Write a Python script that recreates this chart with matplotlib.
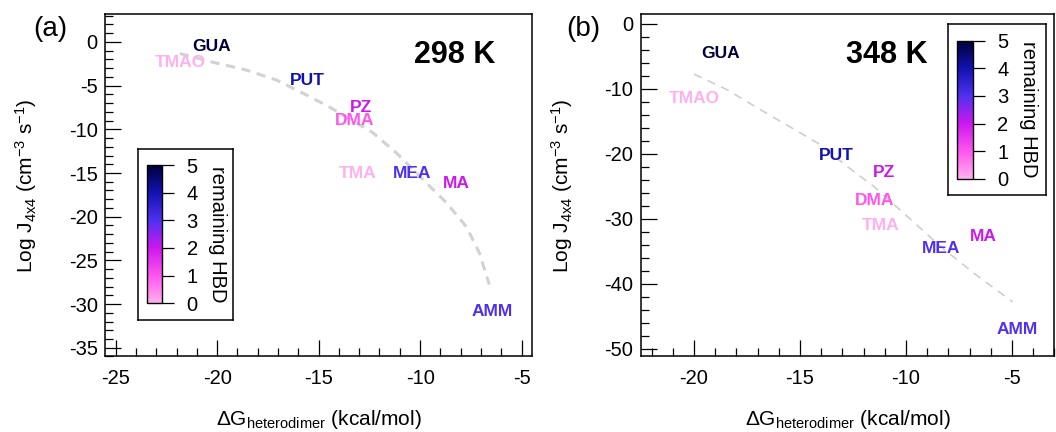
import numpy as np
import matplotlib
matplotlib.use('Agg')
import matplotlib.pyplot as plt
from matplotlib.colors import LinearSegmentedColormap, Normalize
from matplotlib.ticker import MultipleLocator
import matplotlib.cm as cm

plt.rcParams['font.family'] = ['Liberation Sans', 'DejaVu Sans']
plt.rcParams['mathtext.fontset'] = 'custom'
plt.rcParams['mathtext.rm'] = 'Liberation Sans'
plt.rcParams['mathtext.it'] = 'Liberation Sans:italic'
plt.rcParams['mathtext.bf'] = 'Liberation Sans:bold'
plt.rcParams['axes.unicode_minus'] = False

# molecules and remaining H-bond donors
names = ['GUA', 'TMAO', 'PUT', 'PZ', 'DMA', 'TMA', 'MEA', 'MA', 'AMM']
hbd = [5, 0, 4, 2, 1, 0, 3, 2, 3]

# 298 K
dg_298 = [-20.28, -21.8, -15.56, -12.90, -13.23, -13.07, -10.39, -8.20, -6.43]
logj_298 = [-0.49, -2.35, -4.45, -7.49, -9.02, -15.1, -15.0, -16.24, -30.9]
fit_298_x = [-21.84, -20.21, -18.54, -17.06, -15.59, -14.46, -12.34, -11.16, -9.69, -8.70, -7.72, -7.08, -6.59]
fit_298_y = [-1.32, -2.32, -3.23, -4.37, -6.08, -7.45, -10.37, -12.71, -16.13, -18.41, -21.15, -24.12, -27.77]

# 348 K
dg_348 = [-18.74, -20.0, -13.30, -11.06, -11.50, -11.18, -8.35, -6.36, -4.74]
logj_348 = [-4.62, -11.45, -20.3, -22.9, -27.2, -31.1, -34.6, -32.7, -47.1]
fit_348_x = [-20.0, -18.43, -16.85, -14.96, -14.02, -12.76, -11.50, -9.92, -8.35, -6.78, -4.97]
fit_348_y = [-7.75, -10.17, -13.26, -16.85, -18.65, -22.0, -25.08, -29.7, -34.33, -38.43, -42.8]

cmap = LinearSegmentedColormap.from_list('hbd', ['#ffb0f0', '#ff55ee', '#cc18ee', '#5030f0', '#1212b0', '#000038'])
norm = Normalize(0, 5)

fig = plt.figure(figsize=(10.56, 4.32), dpi=100)
ax_a = fig.add_axes([0.0999, 0.1748, 0.4036, 0.7928])
ax_b = fig.add_axes([0.607, 0.1748, 0.3915, 0.7928])


def style(ax, xmaj, ymaj, ymin):
    ax.xaxis.set_major_locator(MultipleLocator(xmaj))
    ax.xaxis.set_minor_locator(MultipleLocator(1))
    ax.yaxis.set_major_locator(MultipleLocator(ymaj))
    ax.yaxis.set_minor_locator(MultipleLocator(ymin))
    ax.tick_params(which='both', direction='in', top=False, right=False, width=0.9, labelsize=14.5)
    ax.tick_params(which='major', length=11.5)
    ax.tick_params(which='minor', length=5.5)
    ax.tick_params(axis='x', pad=9)
    ax.tick_params(axis='y', pad=5.5)
    for s in ax.spines.values():
        s.set_linewidth(1.1)
    ax.set_xlabel(r'$\Delta$G$_{\mathrm{heterodimer}}$ (kcal/mol)', fontsize=15)
    ax.set_ylabel(r'Log J$_{\mathrm{4x4}}$ (cm$^{\mathrm{-3}}$ s$^{\mathrm{-1}}$)', fontsize=15)
    ax.xaxis.set_label_coords(0.5, -0.15)


def add_cbar(box, cpos):
    bx = fig.add_axes(box)
    bx.set_xticks([])
    bx.set_yticks([])
    for s in bx.spines.values():
        s.set_linewidth(1.1)
    cax = fig.add_axes(cpos)
    cb = fig.colorbar(cm.ScalarMappable(norm=norm, cmap=cmap), cax=cax, ticks=range(6))
    cb.outline.set_linewidth(1.0)
    cax.tick_params(direction='out', length=8.5, width=0.9, labelsize=14.5, pad=9)
    cb.set_label('remaining HBD', rotation=270, fontsize=14.5, labelpad=21)


# panel (a)
style(ax_a, 5, 5, 1)
ax_a.set_xlim(-25.5, -4.5)
ax_a.set_ylim(-36, 3.2)
ax_a.plot(fit_298_x, fit_298_y, ls=(0, (3, 2.2)), color='#d2d2d2', lw=2.2, zorder=1)
for n, x, y, h in zip(names, dg_298, logj_298, hbd):
    ax_a.text(x, y, n, color=cmap(norm(h)), fontsize=12.5, fontweight='bold', ha='center', va='center', zorder=2)
ax_a.text(0.82, 0.88, '298 K', transform=ax_a.transAxes, fontsize=22, fontweight='bold', ha='center', va='center')
ax_a.yaxis.set_label_coords(-0.156, 0.5)

# panel (b)
style(ax_b, 5, 10, 2)
ax_b.set_xlim(-22.5, -3)
ax_b.set_ylim(-51.2, 1.5)
ax_b.plot(fit_348_x, fit_348_y, ls=(0, (5, 4)), color='#cfcfcf', lw=1.2, zorder=1)
for n, x, y, h in zip(names, dg_348, logj_348, hbd):
    ax_b.text(x, y, n, color=cmap(norm(h)), fontsize=12.5, fontweight='bold', ha='center', va='center', zorder=2)
ax_b.text(0.595, 0.88, '348 K', transform=ax_b.transAxes, fontsize=22, fontweight='bold', ha='center', va='center')
ax_b.yaxis.set_label_coords(-0.16, 0.5)

fig.text(0.048, 0.934, '(a)', fontsize=20, ha='center', va='center')
fig.text(0.552, 0.933, '(b)', fontsize=20, ha='center', va='center')

add_cbar([0.131, 0.259, 0.090, 0.395], [0.1389, 0.298, 0.0148, 0.320])
add_cbar([0.898, 0.549, 0.0925, 0.395], [0.906, 0.586, 0.0152, 0.320])

fig.savefig('out.png', dpi=100)
